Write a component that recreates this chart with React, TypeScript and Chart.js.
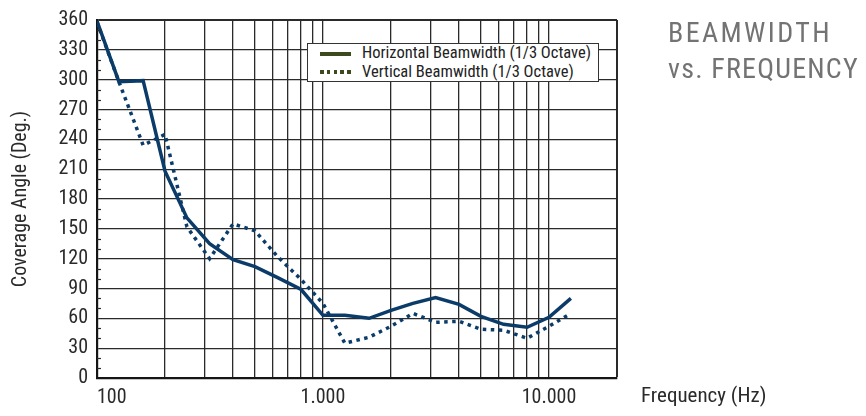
import React, { useEffect, useRef } from "react";
import { Chart, registerables } from "chart.js";

Chart.register(...registerables);

// 1/3-octave centre frequencies (Hz)
const FREQS = [100, 125, 160, 200, 250, 315, 400, 500, 630, 800, 1000, 1250, 1600, 2000, 2500, 3150, 4000, 5000, 6300, 8000, 10000, 12500];
// Coverage angles (deg)
const HORIZONTAL = [359, 298, 299, 208, 161, 135, 119, 112, 101, 89, 63, 63, 60, 68, 75, 81, 74, 62, 54, 51, 61, 80];
const VERTICAL = [358, 298, 234, 245, 152, 120, 155, 148, 122, 99, 75, 35, 41, 52, 65, 56, 57, 49, 48, 40, 52, 65];

const X_GRID = [100, 200, 300, 400, 500, 600, 700, 800, 900, 1000, 2000, 3000, 4000, 5000, 6000, 7000, 8000, 9000, 10000, 20000];
const X_LABELS: Record<number, string> = { 100: "100", 1000: "1.000", 10000: "10.000" };
const Y_MIN = 0;
const Y_MAX = 360;
const Y_STEP = 30;
const Y_MINOR_STEP = 10;

const SERIES_NAMES = ["Horizontal Beamwidth (1/3 Octave)", "Vertical Beamwidth (1/3 Octave)"];
const TITLE_LINES = ["BEAMWIDTH", "vs. FREQUENCY"];
const X_TITLE = "Frequency (Hz)";
const Y_TITLE = "Coverage Angle (Deg.)";

const FONT = "'Liberation Sans Narrow', 'Roboto Condensed', 'DejaVu Sans Condensed', sans-serif";
const LINE_COLOR = "#0b3c69";
const LEGEND_COLOR = "#3d4a1f";
const GRID_COLOR = "#2a2a2a";
const TEXT_COLOR = "#2a2a2a";

const minorTicks = {
  id: "minorTicks",
  afterDraw(chart: any) {
    const y = chart.scales.y;
    const ctx = chart.ctx;
    const left = chart.chartArea.left;
    ctx.save();
    ctx.strokeStyle = GRID_COLOR;
    ctx.lineWidth = 1.2;
    for (let v = Y_MIN + Y_MINOR_STEP; v < Y_MAX; v += Y_MINOR_STEP) {
      if (v % Y_STEP === 0) continue;
      const py = Math.round(y.getPixelForValue(v)) + 0.5;
      ctx.beginPath();
      ctx.moveTo(left, py);
      ctx.lineTo(left + 4, py);
      ctx.stroke();
    }
    ctx.restore();
  },
};

export default function App() {
  const ref = useRef<HTMLCanvasElement | null>(null);

  useEffect(() => {
    if (!ref.current) return;
    const chart = new Chart(ref.current, {
      type: "line",
      data: {
        datasets: [
          {
            label: SERIES_NAMES[0],
            data: FREQS.map((f, i) => ({ x: f, y: HORIZONTAL[i] })),
            borderColor: LINE_COLOR,
            borderWidth: 3.5,
            pointRadius: 0,
            tension: 0,
            borderJoinStyle: "miter",
            order: 1,
          },
          {
            label: SERIES_NAMES[1],
            data: FREQS.map((f, i) => ({ x: f, y: VERTICAL[i] })),
            borderColor: LINE_COLOR,
            borderWidth: 3.5,
            borderDash: [3.5, 4.5],
            borderCapStyle: "butt",
            pointRadius: 0,
            tension: 0,
            order: 2,
          },
        ],
      },
      options: {
        animation: false,
        responsive: false,
        events: [],
        layout: { padding: { top: 12, right: 241, left: 0, bottom: 0 } },
        plugins: { legend: { display: false }, tooltip: { enabled: false }, title: { display: false } },
        scales: {
          x: {
            type: "logarithmic",
            min: 100,
            max: 20000,
            afterBuildTicks: (s: any) => {
              s.ticks = X_GRID.map((v) => ({ value: v }));
            },
            afterFit: (s: any) => {
              s.height = 30;
              s.paddingLeft = 0;
              s.paddingRight = 0;
            },
            ticks: {
              autoSkip: false,
              maxRotation: 0,
              minRotation: 0,
              align: "inner",
              padding: 8,
              color: TEXT_COLOR,
              font: { family: FONT, size: 20 },
              callback: (v: any) => X_LABELS[Number(v)] ?? "",
            },
            grid: {
              color: GRID_COLOR,
              lineWidth: (c: any) => (c.tick && c.tick.value === 20000 ? 2 : 1.3),
              drawTicks: false,
            },
            border: { color: "#151515", width: 2.2 },
          },
          y: {
            min: Y_MIN,
            max: Y_MAX,
            afterFit: (s: any) => {
              s.width = 89;
              s.paddingTop = 0;
              s.paddingBottom = 0;
            },
            ticks: {
              stepSize: Y_STEP,
              padding: 9,
              color: TEXT_COLOR,
              font: { family: FONT, size: 20 },
            },
            grid: {
              color: GRID_COLOR,
              lineWidth: (c: any) => (c.tick && c.tick.value === Y_MAX ? 2 : 1.3),
              drawTicks: false,
            },
            border: { color: "#151515", width: 2.2 },
            title: {
              display: true,
              text: Y_TITLE,
              color: TEXT_COLOR,
              font: { family: FONT, size: 20 },
              padding: { top: 1, bottom: 0 },
            },
          },
        },
      },
      plugins: [minorTicks],
    } as any);
    return () => chart.destroy();
  }, []);

  return (
    <div style={{ position: "relative", width: 850, height: 400, fontFamily: FONT }}>
      <canvas ref={ref} width={850} height={400} style={{ display: "block" }} />
      <div
        style={{
          position: "absolute",
          left: 299,
          top: 35,
          width: 290,
          height: 37,
          background: "#fff",
          border: "1.5px solid #333",
        }}
      >
        <div style={{ position: "absolute", left: 12, top: 8, width: 31, height: 3.5, background: LEGEND_COLOR }} />
        <div
          style={{
            position: "absolute",
            left: 12,
            top: 26,
            width: 31,
            height: 3.5,
            background: `repeating-linear-gradient(90deg, ${LEGEND_COLOR} 0px, ${LEGEND_COLOR} 3.5px, transparent 3.5px, transparent 6.8px)`,
          }}
        />
        <div style={{ position: "absolute", left: 54, top: 0, fontSize: 16.5, lineHeight: "18.5px", color: "#222", whiteSpace: "nowrap" }}>
          <div>{SERIES_NAMES[0]}</div>
          <div>{SERIES_NAMES[1]}</div>
        </div>
      </div>
      <div
        style={{
          position: "absolute",
          left: 660,
          top: 7,
          fontSize: 28,
          lineHeight: "36px",
          color: "#737373",
          whiteSpace: "nowrap",
        }}
      >
        <div style={{ letterSpacing: 2.4 }}>{TITLE_LINES[0]}</div>
        <div style={{ letterSpacing: 1.2 }}>{TITLE_LINES[1]}</div>
      </div>
      <div
        style={{
          position: "absolute",
          left: 633,
          top: 375,
          fontSize: 21,
          lineHeight: "24px",
          color: TEXT_COLOR,
          whiteSpace: "nowrap",
        }}
      >
        {X_TITLE}
      </div>
    </div>
  );
}
